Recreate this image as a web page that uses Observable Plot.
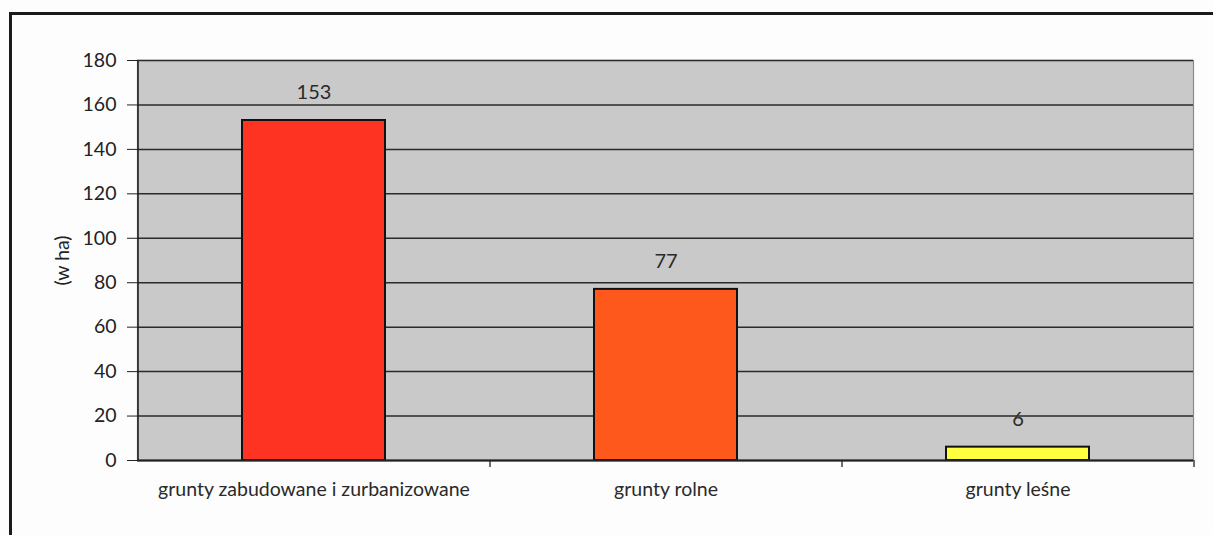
<!DOCTYPE html>
<html>
<head>
<meta charset="utf-8">
<script src="https://cdn.jsdelivr.net/npm/d3@7"></script>
<script src="https://cdn.jsdelivr.net/npm/@observablehq/plot@0.6"></script>
<style>
  html, body { margin: 0; padding: 0; background: #fdfdfd; }
  #wrap { position: relative; width: 1213px; height: 535px; overflow: hidden; }
  #frame { position: absolute; left: 9px; top: 12px; width: 1220px; height: 600px;
           border-left: 3px solid #1a1a1a; border-top: 3px solid #1a1a1a; }
  #chart { position: absolute; left: 0; top: 0; }
  svg { font-family: Lato, "Open Sans", sans-serif; }
</style>
</head>
<body>
<div id="wrap"><div id="frame"></div><div id="chart"></div></div>
<script>
const categories = ["grunty zabudowane i zurbanizowane", "grunty rolne", "grunty leśne"];
const values = [153, 77, 6];
const barColors = ["#ff3322", "#ff581c", "#ffff40"];
const yTicks = [0, 20, 40, 60, 80, 100, 120, 140, 160, 180];
const yLabel = "(w ha)";

const data = categories.map((c, i) => ({category: c, value: values[i], color: barColors[i]}));

const W = 1213, H = 535;
const mL = 137, mR = 20, mT = 60, mB = 75;
const step = (W - mL - mR) / categories.length;
const FS = 19.5;

const chart = Plot.plot({
  width: W,
  height: H,
  marginLeft: mL,
  marginRight: mR,
  marginTop: mT,
  marginBottom: mB,
  style: {background: "transparent", fontSize: FS + "px", fontFamily: "Lato, 'Open Sans', sans-serif", color: "#222"},
  x: {domain: categories, paddingInner: 0.594, paddingOuter: 0.297, label: null},
  y: {domain: [0, 180], ticks: yTicks, label: null},
  marks: [
    Plot.frame({fill: "#c9c9c9", stroke: "#8a8a8a", strokeWidth: 1.2}),
    Plot.ruleY(yTicks, {stroke: "#2a2a2a", strokeWidth: 1.5}),
    Plot.barY(data, {x: "category", y: "value", fill: "color", stroke: "#111", strokeWidth: 2}),
    Plot.text(data, {x: "category", y: "value", text: d => String(d.value), dy: -28, fontSize: 20, fill: "#2a2a2a"}),
    Plot.ruleX(categories, {x: d => d, y1: 0, y2: 0, dx: step / 2, dy: 3.5, insetTop: -3.5, insetBottom: -3.5, stroke: "#222", strokeWidth: 1.3}),
    Plot.ruleX(categories.slice(0, 1), {x: d => d, dx: -step / 2, stroke: "#222", strokeWidth: 1.6}),
    Plot.axisY({ticks: yTicks, tickSize: 10, tickPadding: 11, tickFormat: d => String(d), fontSize: FS, fill: "#222", stroke: "#222",
                label: yLabel, labelAnchor: "center", labelOffset: 82, labelArrow: "none"}),
    Plot.axisX({tickSize: 0, tickPadding: 22, fontSize: FS, fill: "#2a2a2a", label: null}),
    Plot.ruleY([0], {stroke: "#222", strokeWidth: 2})
  ]
});
document.getElementById("chart").appendChild(chart);
</script>
</body>
</html>
